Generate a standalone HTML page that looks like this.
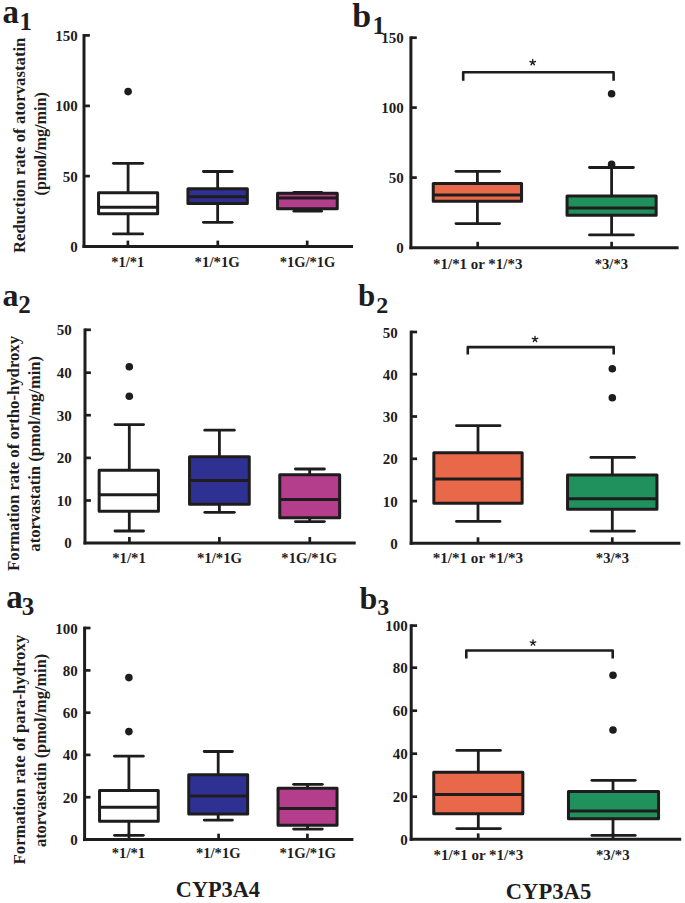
<!DOCTYPE html>
<html><head><meta charset="utf-8"><title>Box plots</title><style>
html,body{margin:0;padding:0;background:#fff;width:685px;height:903px;overflow:hidden;}
svg{display:block;}
text{font-family:"Liberation Serif",serif;fill:#1e1c1d;}
</style></head><body>
<svg width="685" height="903" viewBox="0 0 685 903">
<rect width="685" height="903" fill="#fff"/>
<text x="2.54" y="23.40" font-size="33" font-weight="bold">a</text>
<text x="19.50" y="30.00" font-size="25" font-weight="bold">1</text>
<text transform="translate(25.40,253.00) rotate(-90)" x="0" y="0" font-size="17" font-weight="bold" textLength="215.45" lengthAdjust="spacingAndGlyphs">Reduction rate of atorvastatin</text>
<text transform="translate(45.90,195.41) rotate(-90)" x="0" y="0" font-size="16.5" font-weight="bold" textLength="103.20" lengthAdjust="spacingAndGlyphs">(pmol/mg/min)</text>
<line x1="84.00" y1="34.05" x2="84.00" y2="248.00" stroke="#1e1c1d" stroke-width="3.0" stroke-linecap="butt"/>
<line x1="82.50" y1="246.50" x2="353.00" y2="246.50" stroke="#1e1c1d" stroke-width="3.0" stroke-linecap="butt"/>
<line x1="84.00" y1="35.40" x2="89.90" y2="35.40" stroke="#1e1c1d" stroke-width="2.7" stroke-linecap="butt"/>
<line x1="84.00" y1="105.90" x2="89.90" y2="105.90" stroke="#1e1c1d" stroke-width="2.7" stroke-linecap="butt"/>
<line x1="84.00" y1="176.10" x2="89.90" y2="176.10" stroke="#1e1c1d" stroke-width="2.7" stroke-linecap="butt"/>
<line x1="127.90" y1="246.50" x2="127.90" y2="240.60" stroke="#1e1c1d" stroke-width="2.7" stroke-linecap="butt"/>
<line x1="217.80" y1="246.50" x2="217.80" y2="240.60" stroke="#1e1c1d" stroke-width="2.7" stroke-linecap="butt"/>
<line x1="307.20" y1="246.50" x2="307.20" y2="240.60" stroke="#1e1c1d" stroke-width="2.7" stroke-linecap="butt"/>
<text x="55.37" y="40.95" font-size="15" font-weight="bold">150</text>
<text x="55.37" y="111.45" font-size="15" font-weight="bold">100</text>
<text x="62.87" y="181.64" font-size="15" font-weight="bold">50</text>
<text x="70.37" y="252.04" font-size="15" font-weight="bold">0</text>
<line x1="128.10" y1="163.35" x2="128.10" y2="192.85" stroke="#1e1c1d" stroke-width="2.8" stroke-linecap="butt"/>
<line x1="128.10" y1="213.65" x2="128.10" y2="233.90" stroke="#1e1c1d" stroke-width="2.8" stroke-linecap="butt"/>
<line x1="113.40" y1="163.35" x2="142.70" y2="163.35" stroke="#1e1c1d" stroke-width="2.8" stroke-linecap="round"/>
<line x1="113.40" y1="233.90" x2="142.70" y2="233.90" stroke="#1e1c1d" stroke-width="2.8" stroke-linecap="round"/>
<rect x="98.55" y="192.85" width="59.10" height="20.80" fill="#ffffff" stroke="#1e1c1d" stroke-width="3.0" stroke-linejoin="round"/>
<line x1="98.55" y1="207.30" x2="157.65" y2="207.30" stroke="#1e1c1d" stroke-width="3.0" stroke-linecap="butt"/>
<circle cx="128.10" cy="91.60" r="3.8" fill="#1e1c1d"/>
<line x1="217.65" y1="171.50" x2="217.65" y2="188.75" stroke="#1e1c1d" stroke-width="2.8" stroke-linecap="butt"/>
<line x1="217.65" y1="203.45" x2="217.65" y2="222.30" stroke="#1e1c1d" stroke-width="2.8" stroke-linecap="butt"/>
<line x1="203.40" y1="171.50" x2="232.20" y2="171.50" stroke="#1e1c1d" stroke-width="2.8" stroke-linecap="round"/>
<line x1="203.40" y1="222.30" x2="232.20" y2="222.30" stroke="#1e1c1d" stroke-width="2.8" stroke-linecap="round"/>
<rect x="187.95" y="188.75" width="59.40" height="14.70" fill="#2e3192" stroke="#1e1c1d" stroke-width="3.0" stroke-linejoin="round"/>
<line x1="187.95" y1="196.80" x2="247.35" y2="196.80" stroke="#1e1c1d" stroke-width="3.0" stroke-linecap="butt"/>
<line x1="307.40" y1="192.40" x2="307.40" y2="193.35" stroke="#1e1c1d" stroke-width="2.8" stroke-linecap="butt"/>
<line x1="307.40" y1="208.75" x2="307.40" y2="211.20" stroke="#1e1c1d" stroke-width="2.8" stroke-linecap="butt"/>
<line x1="293.90" y1="192.40" x2="321.60" y2="192.40" stroke="#1e1c1d" stroke-width="2.8" stroke-linecap="round"/>
<line x1="293.90" y1="211.20" x2="321.60" y2="211.20" stroke="#1e1c1d" stroke-width="2.8" stroke-linecap="round"/>
<rect x="277.55" y="193.35" width="59.70" height="15.40" fill="#b43e8c" stroke="#1e1c1d" stroke-width="3.0" stroke-linejoin="round"/>
<line x1="277.55" y1="198.00" x2="337.25" y2="198.00" stroke="#1e1c1d" stroke-width="3.0" stroke-linecap="butt"/>
<text x="111.39" y="267.30" font-size="14" font-weight="bold" textLength="32.85" lengthAdjust="spacingAndGlyphs">*1/*1</text>
<text x="194.58" y="267.30" font-size="14" font-weight="bold" textLength="45.23" lengthAdjust="spacingAndGlyphs">*1/*1G</text>
<text x="279.69" y="267.30" font-size="14" font-weight="bold" textLength="55.71" lengthAdjust="spacingAndGlyphs">*1G/*1G</text>
<text x="352.19" y="27.40" font-size="34" font-weight="bold">b</text>
<text x="372.50" y="33.60" font-size="25" font-weight="bold">1</text>
<line x1="410.90" y1="36.35" x2="410.90" y2="249.20" stroke="#1e1c1d" stroke-width="3.0" stroke-linecap="butt"/>
<line x1="409.40" y1="247.70" x2="678.60" y2="247.70" stroke="#1e1c1d" stroke-width="3.0" stroke-linecap="butt"/>
<line x1="410.90" y1="37.70" x2="416.80" y2="37.70" stroke="#1e1c1d" stroke-width="2.7" stroke-linecap="butt"/>
<line x1="410.90" y1="107.60" x2="416.80" y2="107.60" stroke="#1e1c1d" stroke-width="2.7" stroke-linecap="butt"/>
<line x1="410.90" y1="177.60" x2="416.80" y2="177.60" stroke="#1e1c1d" stroke-width="2.7" stroke-linecap="butt"/>
<line x1="477.70" y1="247.70" x2="477.70" y2="241.80" stroke="#1e1c1d" stroke-width="2.7" stroke-linecap="butt"/>
<line x1="611.60" y1="247.70" x2="611.60" y2="241.80" stroke="#1e1c1d" stroke-width="2.7" stroke-linecap="butt"/>
<text x="381.27" y="43.25" font-size="15" font-weight="bold">150</text>
<text x="381.27" y="113.14" font-size="15" font-weight="bold">100</text>
<text x="388.77" y="183.14" font-size="15" font-weight="bold">50</text>
<text x="396.27" y="253.24" font-size="15" font-weight="bold">0</text>
<line x1="477.40" y1="171.30" x2="477.40" y2="183.45" stroke="#1e1c1d" stroke-width="2.8" stroke-linecap="butt"/>
<line x1="477.40" y1="201.35" x2="477.40" y2="223.60" stroke="#1e1c1d" stroke-width="2.8" stroke-linecap="butt"/>
<line x1="456.00" y1="171.30" x2="499.60" y2="171.30" stroke="#1e1c1d" stroke-width="2.8" stroke-linecap="round"/>
<line x1="456.00" y1="223.60" x2="499.60" y2="223.60" stroke="#1e1c1d" stroke-width="2.8" stroke-linecap="round"/>
<rect x="433.25" y="183.45" width="88.30" height="17.90" fill="#ea684a" stroke="#1e1c1d" stroke-width="3.0" stroke-linejoin="round"/>
<line x1="433.25" y1="195.10" x2="521.55" y2="195.10" stroke="#1e1c1d" stroke-width="3.0" stroke-linecap="butt"/>
<line x1="611.60" y1="167.50" x2="611.60" y2="195.95" stroke="#1e1c1d" stroke-width="2.8" stroke-linecap="butt"/>
<line x1="611.60" y1="215.25" x2="611.60" y2="234.90" stroke="#1e1c1d" stroke-width="2.8" stroke-linecap="butt"/>
<line x1="589.50" y1="167.50" x2="633.40" y2="167.50" stroke="#1e1c1d" stroke-width="2.8" stroke-linecap="round"/>
<line x1="589.50" y1="234.90" x2="633.40" y2="234.90" stroke="#1e1c1d" stroke-width="2.8" stroke-linecap="round"/>
<rect x="567.05" y="195.95" width="89.10" height="19.30" fill="#20915c" stroke="#1e1c1d" stroke-width="3.0" stroke-linejoin="round"/>
<line x1="567.05" y1="207.90" x2="656.15" y2="207.90" stroke="#1e1c1d" stroke-width="3.0" stroke-linecap="butt"/>
<circle cx="611.60" cy="93.70" r="3.8" fill="#1e1c1d"/>
<circle cx="611.60" cy="164.40" r="3.8" fill="#1e1c1d"/>
<polyline points="463.20,80.80 463.20,72.30 613.60,72.30 613.60,80.80" fill="none" stroke="#1e1c1d" stroke-width="2.6" stroke-linejoin="round"/>
<path d="M532.70,62.40L532.70,59.50M532.70,62.40L535.46,61.50M532.70,62.40L534.40,64.75M532.70,62.40L531.00,64.75M532.70,62.40L529.94,61.50" stroke="#1e1c1d" stroke-width="1.35" stroke-linecap="round" fill="none"/>
<text x="433.07" y="269.20" font-size="14" font-weight="bold" textLength="89.33" lengthAdjust="spacingAndGlyphs">*1/*1 or *1/*3</text>
<text x="594.79" y="269.20" font-size="14" font-weight="bold" textLength="33.21" lengthAdjust="spacingAndGlyphs">*3/*3</text>
<text x="2.58" y="305.80" font-size="32" font-weight="bold">a</text>
<text x="18.35" y="312.80" font-size="25" font-weight="bold">2</text>
<text transform="translate(19.30,570.90) rotate(-90)" x="0" y="0" font-size="16.8" font-weight="bold" textLength="234.98" lengthAdjust="spacingAndGlyphs">Formation rate of ortho-hydroxy</text>
<text transform="translate(40.00,551.63) rotate(-90)" x="0" y="0" font-size="16.5" font-weight="bold" textLength="195.74" lengthAdjust="spacingAndGlyphs">atorvastatin (pmol/mg/min)</text>
<line x1="85.00" y1="328.45" x2="85.00" y2="544.40" stroke="#1e1c1d" stroke-width="3.0" stroke-linecap="butt"/>
<line x1="83.50" y1="542.90" x2="355.70" y2="542.90" stroke="#1e1c1d" stroke-width="3.0" stroke-linecap="butt"/>
<line x1="85.00" y1="329.80" x2="90.90" y2="329.80" stroke="#1e1c1d" stroke-width="2.7" stroke-linecap="butt"/>
<line x1="85.00" y1="372.70" x2="90.90" y2="372.70" stroke="#1e1c1d" stroke-width="2.7" stroke-linecap="butt"/>
<line x1="85.00" y1="415.20" x2="90.90" y2="415.20" stroke="#1e1c1d" stroke-width="2.7" stroke-linecap="butt"/>
<line x1="85.00" y1="457.90" x2="90.90" y2="457.90" stroke="#1e1c1d" stroke-width="2.7" stroke-linecap="butt"/>
<line x1="85.00" y1="500.50" x2="90.90" y2="500.50" stroke="#1e1c1d" stroke-width="2.7" stroke-linecap="butt"/>
<line x1="129.40" y1="542.90" x2="129.40" y2="537.00" stroke="#1e1c1d" stroke-width="2.7" stroke-linecap="butt"/>
<line x1="219.40" y1="542.90" x2="219.40" y2="537.00" stroke="#1e1c1d" stroke-width="2.7" stroke-linecap="butt"/>
<line x1="309.80" y1="542.90" x2="309.80" y2="537.00" stroke="#1e1c1d" stroke-width="2.7" stroke-linecap="butt"/>
<text x="56.67" y="335.35" font-size="15" font-weight="bold">50</text>
<text x="56.67" y="378.25" font-size="15" font-weight="bold">40</text>
<text x="56.67" y="420.75" font-size="15" font-weight="bold">30</text>
<text x="56.67" y="463.44" font-size="15" font-weight="bold">20</text>
<text x="56.67" y="506.05" font-size="15" font-weight="bold">10</text>
<text x="64.17" y="548.45" font-size="15" font-weight="bold">0</text>
<line x1="129.30" y1="424.60" x2="129.30" y2="470.15" stroke="#1e1c1d" stroke-width="2.8" stroke-linecap="butt"/>
<line x1="129.30" y1="511.15" x2="129.30" y2="531.00" stroke="#1e1c1d" stroke-width="2.8" stroke-linecap="butt"/>
<line x1="115.00" y1="424.60" x2="143.60" y2="424.60" stroke="#1e1c1d" stroke-width="2.8" stroke-linecap="round"/>
<line x1="115.00" y1="531.00" x2="143.60" y2="531.00" stroke="#1e1c1d" stroke-width="2.8" stroke-linecap="round"/>
<rect x="99.15" y="470.15" width="59.30" height="41.00" fill="#ffffff" stroke="#1e1c1d" stroke-width="3.0" stroke-linejoin="round"/>
<line x1="99.15" y1="494.80" x2="158.45" y2="494.80" stroke="#1e1c1d" stroke-width="3.0" stroke-linecap="butt"/>
<circle cx="129.30" cy="366.80" r="3.8" fill="#1e1c1d"/>
<circle cx="129.30" cy="396.30" r="3.8" fill="#1e1c1d"/>
<line x1="219.40" y1="430.20" x2="219.40" y2="456.65" stroke="#1e1c1d" stroke-width="2.8" stroke-linecap="butt"/>
<line x1="219.40" y1="504.25" x2="219.40" y2="512.30" stroke="#1e1c1d" stroke-width="2.8" stroke-linecap="butt"/>
<line x1="204.80" y1="430.20" x2="234.30" y2="430.20" stroke="#1e1c1d" stroke-width="2.8" stroke-linecap="round"/>
<line x1="204.80" y1="512.30" x2="234.30" y2="512.30" stroke="#1e1c1d" stroke-width="2.8" stroke-linecap="round"/>
<rect x="189.55" y="456.65" width="59.70" height="47.60" fill="#2e3192" stroke="#1e1c1d" stroke-width="3.0" stroke-linejoin="round"/>
<line x1="189.55" y1="480.40" x2="249.25" y2="480.40" stroke="#1e1c1d" stroke-width="3.0" stroke-linecap="butt"/>
<line x1="309.70" y1="469.00" x2="309.70" y2="474.75" stroke="#1e1c1d" stroke-width="2.8" stroke-linecap="butt"/>
<line x1="309.70" y1="517.85" x2="309.70" y2="521.60" stroke="#1e1c1d" stroke-width="2.8" stroke-linecap="butt"/>
<line x1="295.40" y1="469.00" x2="324.40" y2="469.00" stroke="#1e1c1d" stroke-width="2.8" stroke-linecap="round"/>
<line x1="295.40" y1="521.60" x2="324.40" y2="521.60" stroke="#1e1c1d" stroke-width="2.8" stroke-linecap="round"/>
<rect x="279.75" y="474.75" width="59.90" height="43.10" fill="#b43e8c" stroke="#1e1c1d" stroke-width="3.0" stroke-linejoin="round"/>
<line x1="279.75" y1="499.50" x2="339.65" y2="499.50" stroke="#1e1c1d" stroke-width="3.0" stroke-linecap="butt"/>
<text x="112.18" y="563.00" font-size="14" font-weight="bold" textLength="33.69" lengthAdjust="spacingAndGlyphs">*1/*1</text>
<text x="196.98" y="563.00" font-size="14" font-weight="bold" textLength="45.13" lengthAdjust="spacingAndGlyphs">*1/*1G</text>
<text x="281.39" y="563.00" font-size="14" font-weight="bold" textLength="55.81" lengthAdjust="spacingAndGlyphs">*1G/*1G</text>
<text x="358.03" y="305.90" font-size="31" font-weight="bold">b</text>
<text x="376.29" y="312.50" font-size="24" font-weight="bold">2</text>
<line x1="411.20" y1="330.65" x2="411.20" y2="544.70" stroke="#1e1c1d" stroke-width="3.0" stroke-linecap="butt"/>
<line x1="409.70" y1="543.20" x2="680.40" y2="543.20" stroke="#1e1c1d" stroke-width="3.0" stroke-linecap="butt"/>
<line x1="411.20" y1="332.00" x2="417.10" y2="332.00" stroke="#1e1c1d" stroke-width="2.7" stroke-linecap="butt"/>
<line x1="411.20" y1="374.20" x2="417.10" y2="374.20" stroke="#1e1c1d" stroke-width="2.7" stroke-linecap="butt"/>
<line x1="411.20" y1="416.50" x2="417.10" y2="416.50" stroke="#1e1c1d" stroke-width="2.7" stroke-linecap="butt"/>
<line x1="411.20" y1="458.80" x2="417.10" y2="458.80" stroke="#1e1c1d" stroke-width="2.7" stroke-linecap="butt"/>
<line x1="411.20" y1="501.10" x2="417.10" y2="501.10" stroke="#1e1c1d" stroke-width="2.7" stroke-linecap="butt"/>
<line x1="478.00" y1="543.20" x2="478.00" y2="537.30" stroke="#1e1c1d" stroke-width="2.7" stroke-linecap="butt"/>
<line x1="612.30" y1="543.20" x2="612.30" y2="537.30" stroke="#1e1c1d" stroke-width="2.7" stroke-linecap="butt"/>
<text x="382.67" y="337.55" font-size="15" font-weight="bold">50</text>
<text x="382.67" y="379.75" font-size="15" font-weight="bold">40</text>
<text x="382.67" y="422.05" font-size="15" font-weight="bold">30</text>
<text x="382.67" y="464.35" font-size="15" font-weight="bold">20</text>
<text x="382.67" y="506.65" font-size="15" font-weight="bold">10</text>
<text x="390.17" y="548.75" font-size="15" font-weight="bold">0</text>
<line x1="478.00" y1="425.70" x2="478.00" y2="452.85" stroke="#1e1c1d" stroke-width="2.8" stroke-linecap="butt"/>
<line x1="478.00" y1="503.15" x2="478.00" y2="521.40" stroke="#1e1c1d" stroke-width="2.8" stroke-linecap="butt"/>
<line x1="456.50" y1="425.70" x2="500.00" y2="425.70" stroke="#1e1c1d" stroke-width="2.8" stroke-linecap="round"/>
<line x1="456.50" y1="521.40" x2="500.00" y2="521.40" stroke="#1e1c1d" stroke-width="2.8" stroke-linecap="round"/>
<rect x="433.85" y="452.85" width="88.30" height="50.30" fill="#ea684a" stroke="#1e1c1d" stroke-width="3.0" stroke-linejoin="round"/>
<line x1="433.85" y1="479.10" x2="522.15" y2="479.10" stroke="#1e1c1d" stroke-width="3.0" stroke-linecap="butt"/>
<line x1="612.30" y1="457.40" x2="612.30" y2="474.95" stroke="#1e1c1d" stroke-width="2.8" stroke-linecap="butt"/>
<line x1="612.30" y1="509.35" x2="612.30" y2="531.10" stroke="#1e1c1d" stroke-width="2.8" stroke-linecap="butt"/>
<line x1="590.90" y1="457.40" x2="634.50" y2="457.40" stroke="#1e1c1d" stroke-width="2.8" stroke-linecap="round"/>
<line x1="590.90" y1="531.10" x2="634.50" y2="531.10" stroke="#1e1c1d" stroke-width="2.8" stroke-linecap="round"/>
<rect x="567.55" y="474.95" width="89.40" height="34.40" fill="#20915c" stroke="#1e1c1d" stroke-width="3.0" stroke-linejoin="round"/>
<line x1="567.55" y1="498.80" x2="656.95" y2="498.80" stroke="#1e1c1d" stroke-width="3.0" stroke-linecap="butt"/>
<circle cx="612.30" cy="368.70" r="3.8" fill="#1e1c1d"/>
<circle cx="612.30" cy="397.70" r="3.8" fill="#1e1c1d"/>
<polyline points="467.80,354.60 467.80,347.10 613.70,347.10 613.70,354.60" fill="none" stroke="#1e1c1d" stroke-width="2.6" stroke-linejoin="round"/>
<path d="M535.00,339.20L535.00,336.30M535.00,339.20L537.76,338.30M535.00,339.20L536.70,341.55M535.00,339.20L533.30,341.55M535.00,339.20L532.24,338.30" stroke="#1e1c1d" stroke-width="1.35" stroke-linecap="round" fill="none"/>
<text x="432.66" y="562.70" font-size="14" font-weight="bold" textLength="90.44" lengthAdjust="spacingAndGlyphs">*1/*1 or *1/*3</text>
<text x="595.89" y="562.70" font-size="14" font-weight="bold" textLength="33.21" lengthAdjust="spacingAndGlyphs">*3/*3</text>
<text x="6.14" y="608.10" font-size="33" font-weight="bold">a</text>
<text x="21.65" y="614.70" font-size="25" font-weight="bold">3</text>
<text transform="translate(24.50,864.40) rotate(-90)" x="0" y="0" font-size="16.8" font-weight="bold" textLength="229.56" lengthAdjust="spacingAndGlyphs">Formation rate of para-hydroxy</text>
<text transform="translate(45.80,847.02) rotate(-90)" x="0" y="0" font-size="16.5" font-weight="bold" textLength="193.22" lengthAdjust="spacingAndGlyphs">atorvastatin (pmol/mg/min)</text>
<line x1="84.60" y1="626.65" x2="84.60" y2="841.10" stroke="#1e1c1d" stroke-width="3.0" stroke-linecap="butt"/>
<line x1="83.10" y1="839.60" x2="353.40" y2="839.60" stroke="#1e1c1d" stroke-width="3.0" stroke-linecap="butt"/>
<line x1="84.60" y1="628.00" x2="90.50" y2="628.00" stroke="#1e1c1d" stroke-width="2.7" stroke-linecap="butt"/>
<line x1="84.60" y1="670.40" x2="90.50" y2="670.40" stroke="#1e1c1d" stroke-width="2.7" stroke-linecap="butt"/>
<line x1="84.60" y1="712.70" x2="90.50" y2="712.70" stroke="#1e1c1d" stroke-width="2.7" stroke-linecap="butt"/>
<line x1="84.60" y1="754.90" x2="90.50" y2="754.90" stroke="#1e1c1d" stroke-width="2.7" stroke-linecap="butt"/>
<line x1="84.60" y1="797.20" x2="90.50" y2="797.20" stroke="#1e1c1d" stroke-width="2.7" stroke-linecap="butt"/>
<line x1="129.00" y1="839.60" x2="129.00" y2="833.70" stroke="#1e1c1d" stroke-width="2.7" stroke-linecap="butt"/>
<line x1="218.60" y1="839.60" x2="218.60" y2="833.70" stroke="#1e1c1d" stroke-width="2.7" stroke-linecap="butt"/>
<line x1="307.40" y1="839.60" x2="307.40" y2="833.70" stroke="#1e1c1d" stroke-width="2.7" stroke-linecap="butt"/>
<text x="55.37" y="633.55" font-size="15" font-weight="bold">100</text>
<text x="62.87" y="675.95" font-size="15" font-weight="bold">80</text>
<text x="62.87" y="718.25" font-size="15" font-weight="bold">60</text>
<text x="62.87" y="760.45" font-size="15" font-weight="bold">40</text>
<text x="62.87" y="802.75" font-size="15" font-weight="bold">20</text>
<text x="70.37" y="845.15" font-size="15" font-weight="bold">0</text>
<line x1="128.90" y1="756.20" x2="128.90" y2="790.55" stroke="#1e1c1d" stroke-width="2.8" stroke-linecap="butt"/>
<line x1="128.90" y1="821.15" x2="128.90" y2="835.30" stroke="#1e1c1d" stroke-width="2.8" stroke-linecap="butt"/>
<line x1="114.50" y1="756.20" x2="143.30" y2="756.20" stroke="#1e1c1d" stroke-width="2.8" stroke-linecap="round"/>
<line x1="114.50" y1="835.30" x2="143.30" y2="835.30" stroke="#1e1c1d" stroke-width="2.8" stroke-linecap="round"/>
<rect x="99.55" y="790.55" width="58.70" height="30.60" fill="#ffffff" stroke="#1e1c1d" stroke-width="3.0" stroke-linejoin="round"/>
<line x1="99.55" y1="807.30" x2="158.25" y2="807.30" stroke="#1e1c1d" stroke-width="3.0" stroke-linecap="butt"/>
<circle cx="128.90" cy="677.60" r="3.8" fill="#1e1c1d"/>
<circle cx="128.90" cy="731.60" r="3.8" fill="#1e1c1d"/>
<line x1="218.20" y1="751.50" x2="218.20" y2="774.75" stroke="#1e1c1d" stroke-width="2.8" stroke-linecap="butt"/>
<line x1="218.20" y1="814.05" x2="218.20" y2="820.10" stroke="#1e1c1d" stroke-width="2.8" stroke-linecap="butt"/>
<line x1="204.20" y1="751.50" x2="232.40" y2="751.50" stroke="#1e1c1d" stroke-width="2.8" stroke-linecap="round"/>
<line x1="204.20" y1="820.10" x2="232.40" y2="820.10" stroke="#1e1c1d" stroke-width="2.8" stroke-linecap="round"/>
<rect x="188.75" y="774.75" width="58.90" height="39.30" fill="#2e3192" stroke="#1e1c1d" stroke-width="3.0" stroke-linejoin="round"/>
<line x1="188.75" y1="796.00" x2="247.65" y2="796.00" stroke="#1e1c1d" stroke-width="3.0" stroke-linecap="butt"/>
<line x1="307.55" y1="784.30" x2="307.55" y2="788.15" stroke="#1e1c1d" stroke-width="2.8" stroke-linecap="butt"/>
<line x1="307.55" y1="825.15" x2="307.55" y2="829.10" stroke="#1e1c1d" stroke-width="2.8" stroke-linecap="butt"/>
<line x1="293.60" y1="784.30" x2="322.30" y2="784.30" stroke="#1e1c1d" stroke-width="2.8" stroke-linecap="round"/>
<line x1="293.60" y1="829.10" x2="322.30" y2="829.10" stroke="#1e1c1d" stroke-width="2.8" stroke-linecap="round"/>
<rect x="278.05" y="788.15" width="59.00" height="37.00" fill="#b43e8c" stroke="#1e1c1d" stroke-width="3.0" stroke-linejoin="round"/>
<line x1="278.05" y1="808.50" x2="337.05" y2="808.50" stroke="#1e1c1d" stroke-width="3.0" stroke-linecap="butt"/>
<text x="111.78" y="858.30" font-size="14" font-weight="bold" textLength="33.37" lengthAdjust="spacingAndGlyphs">*1/*1</text>
<text x="195.99" y="858.30" font-size="14" font-weight="bold" textLength="44.52" lengthAdjust="spacingAndGlyphs">*1/*1G</text>
<text x="279.48" y="858.30" font-size="14" font-weight="bold" textLength="56.63" lengthAdjust="spacingAndGlyphs">*1G/*1G</text>
<text x="175.83" y="896.60" font-size="24" font-weight="bold" textLength="84.16" lengthAdjust="spacingAndGlyphs">CYP3A4</text>
<text x="359.52" y="608.50" font-size="32" font-weight="bold">b</text>
<text x="377.19" y="614.70" font-size="24" font-weight="bold">3</text>
<line x1="411.20" y1="624.25" x2="411.20" y2="840.80" stroke="#1e1c1d" stroke-width="3.0" stroke-linecap="butt"/>
<line x1="409.70" y1="839.30" x2="681.20" y2="839.30" stroke="#1e1c1d" stroke-width="3.0" stroke-linecap="butt"/>
<line x1="411.20" y1="625.60" x2="417.10" y2="625.60" stroke="#1e1c1d" stroke-width="2.7" stroke-linecap="butt"/>
<line x1="411.20" y1="667.70" x2="417.10" y2="667.70" stroke="#1e1c1d" stroke-width="2.7" stroke-linecap="butt"/>
<line x1="411.20" y1="710.70" x2="417.10" y2="710.70" stroke="#1e1c1d" stroke-width="2.7" stroke-linecap="butt"/>
<line x1="411.20" y1="753.70" x2="417.10" y2="753.70" stroke="#1e1c1d" stroke-width="2.7" stroke-linecap="butt"/>
<line x1="411.20" y1="796.70" x2="417.10" y2="796.70" stroke="#1e1c1d" stroke-width="2.7" stroke-linecap="butt"/>
<line x1="478.20" y1="839.30" x2="478.20" y2="833.40" stroke="#1e1c1d" stroke-width="2.7" stroke-linecap="butt"/>
<line x1="613.00" y1="839.30" x2="613.00" y2="833.40" stroke="#1e1c1d" stroke-width="2.7" stroke-linecap="butt"/>
<text x="385.27" y="631.15" font-size="15" font-weight="bold">100</text>
<text x="392.77" y="673.25" font-size="15" font-weight="bold">80</text>
<text x="392.77" y="716.25" font-size="15" font-weight="bold">60</text>
<text x="392.77" y="759.25" font-size="15" font-weight="bold">40</text>
<text x="392.77" y="802.25" font-size="15" font-weight="bold">20</text>
<text x="400.27" y="844.85" font-size="15" font-weight="bold">0</text>
<line x1="478.30" y1="750.40" x2="478.30" y2="772.35" stroke="#1e1c1d" stroke-width="2.8" stroke-linecap="butt"/>
<line x1="478.30" y1="813.65" x2="478.30" y2="828.60" stroke="#1e1c1d" stroke-width="2.8" stroke-linecap="butt"/>
<line x1="456.80" y1="750.40" x2="500.40" y2="750.40" stroke="#1e1c1d" stroke-width="2.8" stroke-linecap="round"/>
<line x1="456.80" y1="828.60" x2="500.40" y2="828.60" stroke="#1e1c1d" stroke-width="2.8" stroke-linecap="round"/>
<rect x="433.75" y="772.35" width="89.10" height="41.30" fill="#ea684a" stroke="#1e1c1d" stroke-width="3.0" stroke-linejoin="round"/>
<line x1="433.75" y1="794.60" x2="522.85" y2="794.60" stroke="#1e1c1d" stroke-width="3.0" stroke-linecap="butt"/>
<line x1="613.00" y1="780.30" x2="613.00" y2="791.45" stroke="#1e1c1d" stroke-width="2.8" stroke-linecap="butt"/>
<line x1="613.00" y1="818.75" x2="613.00" y2="835.40" stroke="#1e1c1d" stroke-width="2.8" stroke-linecap="butt"/>
<line x1="591.90" y1="780.30" x2="635.20" y2="780.30" stroke="#1e1c1d" stroke-width="2.8" stroke-linecap="round"/>
<line x1="591.90" y1="835.40" x2="635.20" y2="835.40" stroke="#1e1c1d" stroke-width="2.8" stroke-linecap="round"/>
<rect x="568.45" y="791.45" width="90.10" height="27.30" fill="#20915c" stroke="#1e1c1d" stroke-width="3.0" stroke-linejoin="round"/>
<line x1="568.45" y1="810.90" x2="658.55" y2="810.90" stroke="#1e1c1d" stroke-width="3.0" stroke-linecap="butt"/>
<circle cx="613.00" cy="675.30" r="3.8" fill="#1e1c1d"/>
<circle cx="613.00" cy="730.00" r="3.8" fill="#1e1c1d"/>
<polyline points="466.30,658.50 466.30,650.50 612.70,650.50 612.70,658.50" fill="none" stroke="#1e1c1d" stroke-width="2.6" stroke-linejoin="round"/>
<path d="M533.00,642.80L533.00,639.90M533.00,642.80L535.76,641.90M533.00,642.80L534.70,645.15M533.00,642.80L531.30,645.15M533.00,642.80L530.24,641.90" stroke="#1e1c1d" stroke-width="1.35" stroke-linecap="round" fill="none"/>
<text x="433.47" y="860.00" font-size="14" font-weight="bold" textLength="89.83" lengthAdjust="spacingAndGlyphs">*1/*1 or *1/*3</text>
<text x="595.98" y="860.20" font-size="14" font-weight="bold" textLength="33.62" lengthAdjust="spacingAndGlyphs">*3/*3</text>
<text x="505.81" y="899.40" font-size="24" font-weight="bold" textLength="85.38" lengthAdjust="spacingAndGlyphs">CYP3A5</text>
</svg>
</body></html>
